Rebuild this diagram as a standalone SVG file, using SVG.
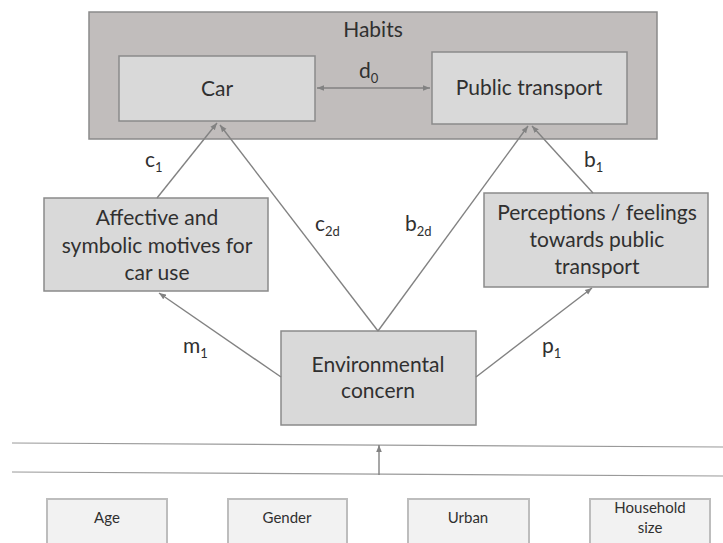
<svg xmlns="http://www.w3.org/2000/svg" width="723" height="543" viewBox="0 0 723 543">
<style>
.t{font-family:Lato,"Liberation Sans",sans-serif;font-size:21px;fill:#303030;text-anchor:middle}
.l{font-family:Lato,"Liberation Sans",sans-serif;font-size:21px;fill:#303030}
.s{font-size:13px}
.sm{font-family:Lato,"Liberation Sans",sans-serif;font-size:15px;fill:#303030;text-anchor:middle}
.box{fill:#d9d9d9;stroke:#8a8a8a;stroke-width:1.5}
.outer{fill:#c1bdbc;stroke:#8a8a8a;stroke-width:1.5}
.lite{fill:#f2f2f2;stroke:#bdbdbd;stroke-width:2}
.c{stroke:#828282;stroke-width:1.4;fill:none}
</style>
<defs>
<marker id="ah" viewBox="0 0 10 10" refX="10" refY="5" markerWidth="7" markerHeight="7" orient="auto-start-reverse" markerUnits="userSpaceOnUse">
<path d="M0,1 L10,5 L0,9 Z" fill="#828282"/>
</marker>
</defs>
<g id="habits">
<rect class="outer" x="89" y="12" width="568" height="127"/>
<text class="t" x="373" y="37">Habits</text>
</g>
<g id="car">
<rect class="box" x="119" y="56" width="196" height="65"/>
<text class="t" x="217" y="96">Car</text>
</g>
<g id="public-transport">
<rect class="box" x="432" y="52" width="195" height="72"/>
<text class="t" x="529" y="95">Public transport</text>
</g>
<g id="affective">
<rect class="box" x="44" y="198" width="224" height="93"/>
<text class="t" x="157" y="225">Affective and</text>
<text class="t" x="157" y="253">symbolic motives for</text>
<text class="t" x="157" y="280">car use</text>
</g>
<g id="perceptions">
<rect class="box" x="484" y="193" width="224" height="94"/>
<text class="t" x="597" y="220">Perceptions / feelings</text>
<text class="t" x="597" y="247">towards public</text>
<text class="t" x="597" y="274">transport</text>
</g>
<g id="environmental">
<rect class="box" x="281" y="331" width="195" height="94"/>
<text class="t" x="378" y="372">Environmental</text>
<text class="t" x="378" y="398">concern</text>
</g>
<g id="age">
<rect class="lite" x="47" y="499" width="120" height="60"/>
<text class="sm" x="107" y="523">Age</text>
</g>
<g id="gender">
<rect class="lite" x="228" y="499" width="119" height="60"/>
<text class="sm" x="287" y="523">Gender</text>
</g>
<g id="urban">
<rect class="lite" x="408" y="499" width="121" height="60"/>
<text class="sm" x="468" y="523">Urban</text>
</g>
<g id="household">
<rect class="lite" x="590" y="499" width="120" height="60"/>
<text class="sm" x="650" y="513">Household</text>
<text class="sm" x="650" y="533">size</text>
</g>
<g id="connectors">
<line class="c" x1="317" y1="88" x2="430" y2="88" marker-start="url(#ah)" marker-end="url(#ah)"/>
<line class="c" x1="157" y1="198" x2="217" y2="123" marker-end="url(#ah)"/>
<line class="c" x1="378" y1="331" x2="220" y2="125" marker-end="url(#ah)"/>
<line class="c" x1="378" y1="331" x2="528" y2="126" marker-end="url(#ah)"/>
<line class="c" x1="593" y1="193" x2="532" y2="126" marker-end="url(#ah)"/>
<line class="c" x1="281" y1="377" x2="159" y2="293" marker-end="url(#ah)"/>
<line class="c" x1="476" y1="377" x2="592" y2="288" marker-end="url(#ah)"/>
<line x1="12" y1="443" x2="723" y2="447" stroke="#9a9a9a" stroke-width="1.2"/>
<line x1="12" y1="472" x2="723" y2="476" stroke="#9a9a9a" stroke-width="1.2"/>
<line class="c" x1="379" y1="475" x2="379" y2="445" marker-end="url(#ah)"/>
</g>
<g id="labels">
<text class="l" x="359" y="78">d<tspan class="s" dy="5">0</tspan></text>
<text class="l" x="145" y="167">c<tspan class="s" dy="5">1</tspan></text>
<text class="l" x="584" y="167">b<tspan class="s" dy="5">1</tspan></text>
<text class="l" x="315" y="231">c<tspan class="s" dy="5">2d</tspan></text>
<text class="l" x="405" y="231">b<tspan class="s" dy="5">2d</tspan></text>
<text class="l" x="183" y="353">m<tspan class="s" dy="5">1</tspan></text>
<text class="l" x="542" y="353">p<tspan class="s" dy="5">1</tspan></text>
</g>
</svg>
